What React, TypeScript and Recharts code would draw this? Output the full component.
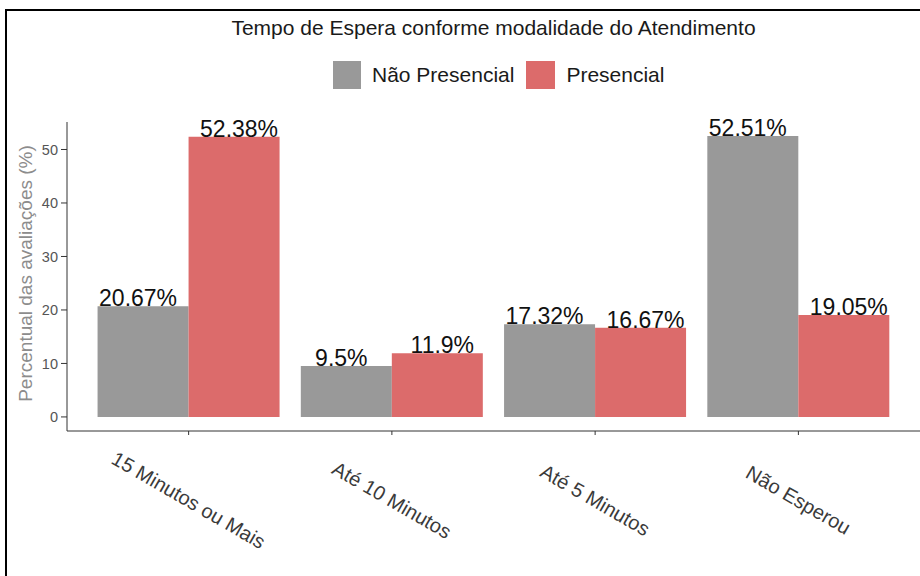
import React from "react";
import {
  BarChart,
  Bar,
  XAxis,
  YAxis,
  Legend,
  LabelList,
  Label,
} from "recharts";

const categorias = ["15 Minutos ou Mais", "Até 10 Minutos", "Até 5 Minutos", "Não Esperou"];
const naoPresencial = [20.67, 9.5, 17.32, 52.51];
const presencial = [52.38, 11.9, 16.67, 19.05];
const yTicks = [0, 10, 20, 30, 40, 50];
const seriesNames = ["Não Presencial", "Presencial"];
const title = "Tempo de Espera conforme modalidade do Atendimento";
const yLabel = "Percentual das avaliações (%)";

const GRAY = "#999999";
const RED = "#DC6B6B";
const FONT = "'Liberation Sans', Arial, Helvetica, sans-serif";

const data = categorias.map((c, i) => ({
  categoria: c,
  naoPresencial: naoPresencial[i],
  presencial: presencial[i],
}));

const XTick = (props: any) => {
  const { x, y, payload } = props;
  const cy = y + 63;
  return (
    <text
      x={x}
      y={cy}
      transform={`rotate(30, ${x}, ${cy})`}
      textAnchor="middle"
      dominantBaseline="central"
      fontSize={20}
      fontFamily={FONT}
      fill="#3a3a3a"
    >
      {payload.value}
    </text>
  );
};

// labels are dodged a bit wider than the bars (like position_dodge(width = 1))
const makeBarLabel = (shift: number) => (props: any) => {
  const { x, y, width, value } = props;
  return (
    <text
      x={x + width / 2 + shift}
      y={y}
      textAnchor="middle"
      fontSize={23}
      fontFamily={FONT}
      fill="#111"
    >
      {value}%
    </text>
  );
};

const legendContent = () => (
  <div style={{ display: "flex", alignItems: "center", fontFamily: FONT, fontSize: 21, color: "#1a1a1a" }}>
    <div style={{ width: 28, height: 28, background: GRAY }} />
    <span style={{ marginLeft: 11, marginRight: 12 }}>{seriesNames[0]}</span>
    <div style={{ width: 29, height: 28, background: RED }} />
    <span style={{ marginLeft: 11 }}>{seriesNames[1]}</span>
  </div>
);

export default function App() {
  return (
    <div
      style={{
        position: "absolute",
        left: 0,
        top: 0,
        width: 920,
        height: 576,
        background: "#fff",
        overflow: "hidden",
        fontFamily: FONT,
      }}
    >
      {/* frame left by the original crop */}
      <div style={{ position: "absolute", left: 5, top: 9, width: 915, height: 2, background: "#000" }} />
      <div style={{ position: "absolute", left: 5, top: 9, width: 2, height: 567, background: "#000" }} />

      <div
        style={{
          position: "absolute",
          top: 16,
          left: 67,
          width: 853,
          textAlign: "center",
          fontSize: 21,
          lineHeight: "24px",
          color: "#1a1a1a",
        }}
      >
        {title}
      </div>

      <BarChart
        width={920}
        height={576}
        data={data}
        margin={{ top: 122, right: 0, bottom: 0, left: 0 }}
        barCategoryGap="5.2%"
        barGap={0}
      >
        <XAxis
          dataKey="categoria"
          height={145}
          padding={{ left: 20, right: 20 }}
          stroke="#333"
          tickSize={4}
          tick={<XTick />}
          interval={0}
        />
        <YAxis
          type="number"
          width={67}
          domain={[-2.63, 55.14]}
          ticks={yTicks}
          stroke="#333"
          tickSize={6}
          tickMargin={3}
          tick={{ fill: "#555", fontSize: 14.5, fontFamily: FONT }}
        >
          <Label
            content={(p: any) => {
              const vb = p.viewBox || { y: 122, height: 309 };
              const cy = vb.y + vb.height / 2 - 3;
              return (
                <text
                  x={25}
                  y={cy}
                  transform={`rotate(-90, 25, ${cy})`}
                  textAnchor="middle"
                  dominantBaseline="central"
                  fontSize={19}
                  fontFamily={FONT}
                  fill="#8c8c8c"
                >
                  {yLabel}
                </text>
              );
            }}
          />
        </YAxis>
        <Legend
          layout="horizontal"
          verticalAlign="middle"
          align="center"
          content={legendContent}
          wrapperStyle={{ top: 61, left: 333, width: "auto", height: "auto" }}
        />
        <Bar dataKey="naoPresencial" name={seriesNames[0]} fill={GRAY} isAnimationActive={false}>
          <LabelList dataKey="naoPresencial" content={makeBarLabel(-5)} />
        </Bar>
        <Bar dataKey="presencial" name={seriesNames[1]} fill={RED} isAnimationActive={false}>
          <LabelList dataKey="presencial" content={makeBarLabel(5)} />
        </Bar>
      </BarChart>
    </div>
  );
}
